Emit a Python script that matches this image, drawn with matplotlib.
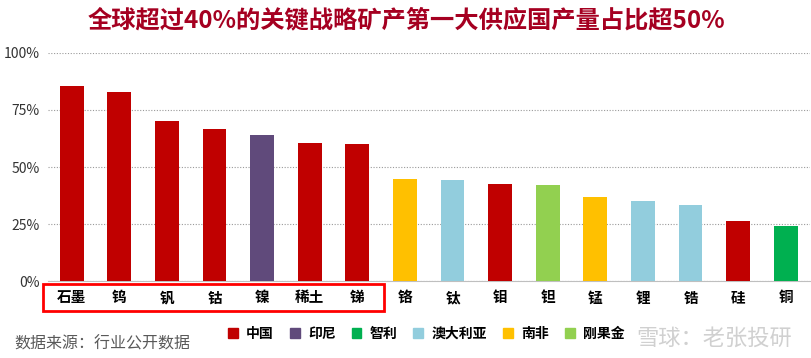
import matplotlib
matplotlib.use("Agg")
import matplotlib.pyplot as plt
from matplotlib.patches import Rectangle, Patch
from matplotlib.ticker import PercentFormatter

plt.rcParams["font.family"] = ["Noto Sans CJK SC", "DejaVu Sans"]

minerals = ["石墨", "钨", "钒", "钴", "镍", "稀土", "锑", "铬", "钛", "钼", "钽", "锰", "锂", "锆", "硅", "铜"]
share = [85.5, 83.0, 70.2, 66.7, 64.2, 60.6, 60.1, 44.8, 44.4, 42.6, 42.0, 36.9, 35.2, 33.5, 26.4, 24.2]
supplier = ["中国", "中国", "中国", "中国", "印尼", "中国", "中国", "南非", "澳大利亚",
            "中国", "刚果金", "南非", "澳大利亚", "澳大利亚", "中国", "智利"]
countries = ["中国", "印尼", "智利", "澳大利亚", "南非", "刚果金"]
country_colors = {"中国": "#C00000", "印尼": "#604A7B", "智利": "#00B050",
                  "澳大利亚": "#92CDDD", "南非": "#FFC000", "刚果金": "#92D050"}

fig = plt.figure(figsize=(8.12, 3.58), dpi=100)
ax = fig.add_axes([0.059, 0.215, 0.938, 0.637])

x = range(len(minerals))
ax.bar(x, share, width=0.5, color=[country_colors[s] for s in supplier], zorder=3)

ax.set_xlim(-0.5, len(minerals) - 0.5)
ax.set_ylim(0, 100)
ax.set_yticks([0, 25, 50, 75, 100])
ax.yaxis.set_major_formatter(PercentFormatter(decimals=0))
ax.grid(axis="y", linestyle=(0, (1, 1.5)), color="#9a9a9a", linewidth=0.8, zorder=0)
for side in ["top", "right", "left"]:
    ax.spines[side].set_visible(False)
ax.spines["bottom"].set_color("#bfbfbf")
ax.tick_params(axis="y", length=0, labelsize=10, labelcolor="#333333", pad=6)
ax.tick_params(axis="x", length=0, pad=6)
ax.set_xticks(list(x))
ax.set_xticklabels(minerals, fontsize=10.5, fontweight="bold", color="black")

# red box around the China-dominated group
box = Rectangle((0.0535, 0.132), 0.419, 0.074, transform=fig.transFigure,
                fill=False, edgecolor="#FF0000", linewidth=2)
fig.patches.append(box)

fig.text(0.5, 0.943, "全球超过40%的关键战略矿产第一大供应国产量占比超50%",
         ha="center", va="center", fontsize=17.5, fontweight="heavy", color="#A50021")

handles = [Patch(color=country_colors[c]) for c in countries]
leg = fig.legend(handles, countries, loc="center", bbox_to_anchor=(0.525, 0.068),
                 ncol=6, frameon=False, handlelength=0.7, handleheight=0.7,
                 handletextpad=0.6, columnspacing=1.15,
                 prop={"size": 10, "weight": "bold"})

fig.text(0.018, 0.04, "数据来源：行业公开数据", ha="left", va="center",
         fontsize=11.5, color="#595959")
fig.text(0.975, 0.055, "雪球：老张投研", ha="right", va="center",
         fontsize=16, color="#d0d0d0")

fig.savefig("out.png", dpi=100)
